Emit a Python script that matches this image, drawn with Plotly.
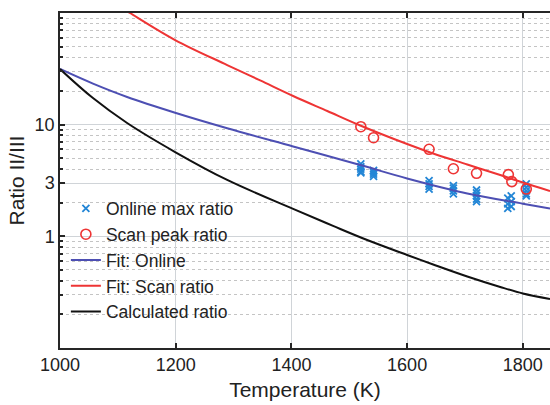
import plotly.graph_objects as go

# ---- data ----
# Fit: Online (blue)
fit_online_T = [1000, 1057, 1116, 1199, 1289, 1403, 1519, 1600, 1704, 1800, 1847]
fit_online_R = [31.5, 23.3, 17.7, 12.8, 9.3, 6.38, 4.35, 3.3, 2.42, 1.96, 1.77]

# Fit: Scan ratio (red)
fit_scan_T = [1100, 1121, 1199, 1289, 1346, 1403, 1462, 1519, 1600, 1645, 1704, 1761, 1800, 1847]
fit_scan_R = [117, 100, 57.3, 34.2, 24.9, 18.07, 13.26, 9.83, 6.71, 5.52, 4.40, 3.54, 3.03, 2.55]

# Calculated ratio (black)
calc_T = [1000, 1057, 1116, 1199, 1289, 1403, 1472, 1531, 1600, 1645, 1704, 1761, 1800, 1847]
calc_R = [31.5, 17.3, 10.35, 5.69, 3.20, 1.76, 1.24, 0.927, 0.681, 0.560, 0.437, 0.352, 0.308, 0.275]

# Scan peak ratio (red circles)
scan_T = [1520, 1542, 1638, 1680, 1720, 1775, 1781, 1806]
scan_R = [9.59, 7.64, 6.02, 4.03, 3.67, 3.57, 3.09, 2.65]

# Online max ratio (blue crosses)
online_T = [1520, 1520, 1520, 1520, 1520,
            1542, 1542, 1542, 1542,
            1638, 1638, 1638, 1638,
            1680, 1680, 1680, 1680,
            1720, 1720, 1720, 1720, 1720,
            1774, 1774, 1774, 1780, 1780, 1780,
            1806, 1806, 1806, 1806, 1806]
online_R = [4.45, 4.2, 4.0, 3.8, 3.7,
            3.9, 3.75, 3.6, 3.45,
            3.15, 2.95, 2.8, 2.65,
            2.85, 2.7, 2.55, 2.4,
            2.6, 2.45, 2.3, 2.15, 2.05,
            2.2, 1.95, 1.78, 2.3, 2.05, 1.85,
            2.95, 2.75, 2.55, 2.4, 2.3]

x_ticks = [1000, 1200, 1400, 1600, 1800]
y_ticks = [1, 3, 10]
y_tick_text = ["1", "3", "10"]
y_minor = [0.2, 0.3, 0.4, 0.5, 0.6, 0.7, 0.8, 0.9,
           2, 4, 5, 6, 7, 8, 9,
           20, 30, 40, 50, 60, 70, 80, 90]

BLUE_FIT = "#4d4fb3"
RED = "#ee3434"
MARK_BLUE = "#2386d6"
AX = "#262626"
FONT = "Liberation Sans"

fig = go.Figure()
fig.add_trace(go.Scatter(x=online_T, y=online_R, mode="markers", name="Online max ratio",
                         marker=dict(symbol="x-thin", size=7, line=dict(width=1.8, color=MARK_BLUE),
                                     color=MARK_BLUE)))
fig.add_trace(go.Scatter(x=scan_T, y=scan_R, mode="markers", name="Scan peak ratio",
                         marker=dict(symbol="circle-open", size=10, line=dict(width=1.6),
                                     color=RED)))
fig.add_trace(go.Scatter(x=fit_online_T, y=fit_online_R, mode="lines", name="Fit: Online",
                         line=dict(color=BLUE_FIT, width=2, shape="spline", smoothing=1)))
fig.add_trace(go.Scatter(x=fit_scan_T, y=fit_scan_R, mode="lines", name="Fit: Scan ratio",
                         line=dict(color=RED, width=2, shape="spline", smoothing=1)))
fig.add_trace(go.Scatter(x=calc_T, y=calc_R, mode="lines", name="Calculated ratio",
                         line=dict(color="#111111", width=2, shape="spline", smoothing=1)))

fig.update_layout(
    width=550, height=405,
    margin=dict(l=60, r=0, t=13, b=57),
    paper_bgcolor="white", plot_bgcolor="white",
    font=dict(family=FONT, color="#222222", size=18),
    showlegend=True,
    legend=dict(x=0.012, y=0.47, xanchor="left", yanchor="top",
                bgcolor="rgba(0,0,0,0)", borderwidth=0,
                font=dict(size=17.5, family=FONT, color="#222222"),
                itemwidth=30, tracegroupgap=0),
    xaxis=dict(
        range=[1000, 1847], tickvals=x_ticks,
        ticks="inside", ticklen=5, tickwidth=1.5, tickcolor=AX,
        showline=True, linecolor=AX, linewidth=1.5, mirror="allticks",
        showgrid=True, gridcolor="#d0d4d8", gridwidth=1,
        zeroline=False,
        tickfont=dict(size=18),
        title=dict(text="Temperature (K)", font=dict(size=21), standoff=8),
    ),
    yaxis=dict(
        type="log", range=[-1, 2],
        tickvals=y_ticks, ticktext=y_tick_text,
        ticks="inside", ticklen=5, tickwidth=1.5, tickcolor=AX,
        showline=True, linecolor=AX, linewidth=1.5, mirror=False,
        showgrid=True, gridcolor="#d0d4d8", gridwidth=1,
        zeroline=False,
        tickfont=dict(size=18),
        minor=dict(tickvals=y_minor, ticks="inside", ticklen=3, tickcolor=AX,
                   showgrid=True, gridcolor="#c4c4c4", griddash="dot", gridwidth=1),
        title=dict(text="Ratio II/III", font=dict(size=21), standoff=4),
    ),
)

fig.write_html("out.html")
